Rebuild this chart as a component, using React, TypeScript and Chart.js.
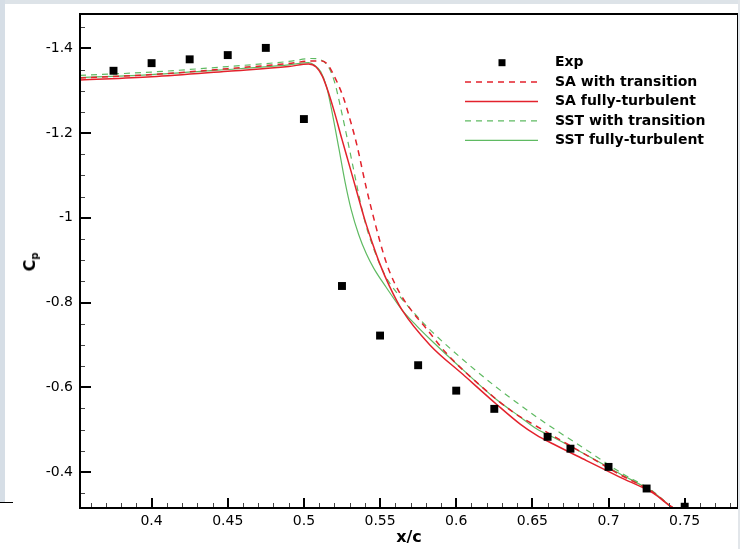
import React, { useEffect, useRef } from 'react';
import { Chart, registerables } from 'chart.js';

Chart.register(...registerables);

// ---------- data ----------
const expX = [0.375, 0.4, 0.425, 0.45, 0.475, 0.5, 0.525, 0.55, 0.575, 0.6, 0.625, 0.66, 0.675, 0.7, 0.725, 0.75];
const expCp = [-1.347, -1.365, -1.374, -1.384, -1.401, -1.233, -0.839, -0.722, -0.652, -0.592, -0.549, -0.483, -0.455, -0.412, -0.361, -0.318];

const saTransX = [0.353, 0.4, 0.45, 0.49, 0.505, 0.512, 0.516, 0.519, 0.5257, 0.531, 0.5345, 0.541, 0.5476, 0.552, 0.556, 0.563, 0.5717, 0.5805, 0.5936, 0.6155, 0.6374, 0.6527, 0.6637, 0.6855, 0.7074, 0.7293, 0.7412, 0.75];
const saTransCp = [-1.33, -1.338, -1.352, -1.364, -1.37, -1.37, -1.36, -1.341, -1.286, -1.223, -1.176, -1.07, -0.975, -0.918, -0.875, -0.822, -0.776, -0.738, -0.68, -0.605, -0.541, -0.508, -0.485, -0.44, -0.394, -0.352, -0.318, -0.3];

const saTurbX = [0.353, 0.4, 0.45, 0.49, 0.503, 0.508, 0.512, 0.516, 0.52, 0.525, 0.53, 0.535, 0.54, 0.545, 0.55, 0.556, 0.5645, 0.5827, 0.6045, 0.6264, 0.642, 0.6527, 0.6637, 0.6855, 0.7074, 0.7293, 0.7412, 0.75];
const saTurbCp = [-1.325, -1.333, -1.346, -1.357, -1.363, -1.356, -1.335, -1.297, -1.25, -1.185, -1.122, -1.058, -0.995, -0.94, -0.89, -0.84, -0.782, -0.7, -0.63, -0.56, -0.513, -0.487, -0.466, -0.427, -0.388, -0.35, -0.318, -0.3];

const sstTransX = [0.353, 0.4, 0.45, 0.49, 0.505, 0.51, 0.516, 0.52, 0.524, 0.528, 0.532, 0.536, 0.54, 0.545, 0.553, 0.563, 0.5717, 0.5827, 0.6045, 0.6264, 0.642, 0.6527, 0.6637, 0.6855, 0.7074, 0.7293, 0.7412, 0.75];
const sstTransCp = [-1.336, -1.344, -1.357, -1.369, -1.376, -1.374, -1.357, -1.322, -1.262, -1.195, -1.125, -1.055, -0.992, -0.935, -0.866, -0.814, -0.778, -0.736, -0.665, -0.6, -0.558, -0.53, -0.503, -0.452, -0.4, -0.354, -0.318, -0.3];

const sstTurbX = [0.353, 0.4, 0.45, 0.49, 0.503, 0.507, 0.511, 0.515, 0.519, 0.523, 0.527, 0.531, 0.536, 0.541, 0.546, 0.554, 0.5645, 0.574, 0.5827, 0.6045, 0.6264, 0.642, 0.6527, 0.6637, 0.6855, 0.7074, 0.7293, 0.7412, 0.75];
const sstTurbCp = [-1.331, -1.338, -1.35, -1.361, -1.366, -1.36, -1.345, -1.308, -1.24, -1.163, -1.085, -1.02, -0.96, -0.915, -0.88, -0.836, -0.782, -0.745, -0.714, -0.641, -0.571, -0.53, -0.502, -0.482, -0.44, -0.396, -0.352, -0.318, -0.3];

const xTicks = [0.4, 0.45, 0.5, 0.55, 0.6, 0.65, 0.7, 0.75];
const yTicks = [-1.4, -1.2, -1.0, -0.8, -0.6, -0.4];
const xRange = [0.353, 0.785];
const yRange = [-1.481, -0.315];

const seriesLabels = ['Exp', 'SA with transition', 'SA fully-turbulent', 'SST with transition', 'SST fully-turbulent'];

const RED = '#e3222c';
const GREEN = '#5fba62';
const FONT = '"DejaVu Sans", "Liberation Sans", Arial, sans-serif';

const pts = (xs: number[], ys: number[]) => xs.map((x, i) => ({ x, y: ys[i] }));

const framePlugin = {
  id: 'frameTicks',
  afterDatasetsDraw(chart: any) {
    const { ctx, chartArea: a, scales } = chart;
    const sx = scales.x;
    const sy = scales.y;
    ctx.save();
    // minor ticks
    ctx.strokeStyle = '#444';
    ctx.lineWidth = 1;
    ctx.beginPath();
    for (let k = Math.ceil(xRange[0] * 100); k <= Math.floor(xRange[1] * 100); k++) {
      const px = Math.round(sx.getPixelForValue(k / 100)) + 0.5;
      ctx.moveTo(px, a.bottom);
      ctx.lineTo(px, a.bottom - 5);
    }
    for (let k = Math.ceil(yRange[0] * 20); k <= Math.floor(yRange[1] * 20); k++) {
      const py = Math.round(sy.getPixelForValue(k / 20)) + 0.5;
      ctx.moveTo(a.left, py);
      ctx.lineTo(a.left + 5, py);
    }
    ctx.stroke();
    // major ticks
    ctx.strokeStyle = '#000';
    ctx.lineWidth = 2;
    ctx.beginPath();
    xTicks.forEach((v) => {
      const px = Math.round(sx.getPixelForValue(v));
      ctx.moveTo(px, a.bottom);
      ctx.lineTo(px, a.bottom - 10);
    });
    yTicks.forEach((v) => {
      const py = Math.round(sy.getPixelForValue(v));
      ctx.moveTo(a.left, py);
      ctx.lineTo(a.left + 11, py);
    });
    ctx.stroke();
    // frame
    ctx.lineWidth = 2;
    ctx.strokeRect(a.left, a.top, a.right - a.left, a.bottom - a.top);
    ctx.restore();
  },
};

const legendPlugin = {
  id: 'insideLegend',
  afterDraw(chart: any) {
    const { ctx, chartArea: a } = chart;
    const x0 = a.left + 385;
    const x1 = a.left + 458;
    const tx = a.left + 475;
    const y0 = a.top + 48.7;
    const dy = 19.4;
    ctx.save();
    ctx.font = `bold 14px ${FONT}`;
    ctx.textBaseline = 'middle';
    ctx.textAlign = 'left';
    chart.data.datasets.forEach((ds: any, i: number) => {
      const y = y0 + i * dy;
      if (ds.showLine === false) {
        ctx.fillStyle = '#000';
        ctx.fillRect(a.left + 422 - 3.5, y - 3.5, 7, 7);
      } else {
        ctx.strokeStyle = ds.borderColor;
        ctx.lineWidth = ds.borderWidth;
        ctx.setLineDash(ds.borderDash || []);
        ctx.beginPath();
        ctx.moveTo(x0, y);
        ctx.lineTo(x1, y);
        ctx.stroke();
        ctx.setLineDash([]);
      }
      ctx.fillStyle = '#000';
      ctx.fillText(ds.label, tx, y);
    });
    ctx.restore();
  },
};

export default function App() {
  const ref = useRef<HTMLCanvasElement | null>(null);

  useEffect(() => {
    document.body.style.margin = '0';
    const canvas = ref.current;
    if (!canvas) return;
    const lineDs = (label: string, xs: number[], ys: number[], color: string, width: number, dash: number[]) => ({
      label,
      data: pts(xs, ys),
      showLine: true,
      borderColor: color,
      backgroundColor: color,
      borderWidth: width,
      borderDash: dash,
      pointRadius: 0,
      pointHoverRadius: 0,
      cubicInterpolationMode: 'monotone' as const,
      order: 1,
    });
    const chart = new Chart(canvas, {
      type: 'scatter',
      data: {
        datasets: [
          {
            label: seriesLabels[0],
            data: pts(expX, expCp),
            showLine: false,
            pointStyle: 'rect',
            pointRadius: 5.6,
            pointBackgroundColor: '#000',
            pointBorderColor: '#000',
            pointBorderWidth: 0,
            order: 0,
          } as any,
          lineDs(seriesLabels[1], saTransX, saTransCp, RED, 1.5, [6, 5]),
          lineDs(seriesLabels[2], saTurbX, saTurbCp, RED, 1.5, []),
          lineDs(seriesLabels[3], sstTransX, sstTransCp, GREEN, 1.2, [6, 5]),
          lineDs(seriesLabels[4], sstTurbX, sstTurbCp, GREEN, 1.2, []),
        ],
      },
      options: {
        responsive: false,
        animation: false,
        devicePixelRatio: 1,
        layout: { autoPadding: false, padding: { left: 0, right: 0, top: 14, bottom: 0 } },
        plugins: {
          legend: { display: false },
          tooltip: { enabled: false },
        },
        scales: {
          x: {
            type: 'linear',
            min: xRange[0],
            max: xRange[1],
            afterBuildTicks: (s: any) => {
              s.ticks = xTicks.map((v) => ({ value: v }));
            },
            afterFit: (s: any) => {
              s.height = 41;
              s.paddingRight = 0;
              s.paddingLeft = 0;
            },
            grid: { display: false, drawTicks: false },
            border: { display: false },
            ticks: {
              padding: 5,
              color: '#000',
              font: { family: FONT, size: 14 },
              maxRotation: 0,
              autoSkip: false,
              callback: (v: any) => String(Number(Number(v).toFixed(3))),
            },
            title: {
              display: true,
              text: 'x/c',
              color: '#000',
              font: { family: FONT, size: 16, weight: 'bold' },
              padding: { top: 0, bottom: 2 },
            },
          },
          y: {
            type: 'linear',
            reverse: true,
            min: yRange[0],
            max: yRange[1],
            afterBuildTicks: (s: any) => {
              s.ticks = yTicks.map((v) => ({ value: v }));
            },
            afterFit: (s: any) => {
              s.width = 80;
              s.paddingTop = 0;
              s.paddingBottom = 0;
            },
            grid: { display: false, drawTicks: false },
            border: { display: false },
            ticks: {
              padding: 7,
              color: '#000',
              font: { family: FONT, size: 14 },
              autoSkip: false,
              callback: (v: any) => String(Number(Number(v).toFixed(3))),
            },
          },
        },
      },
      plugins: [framePlugin, legendPlugin],
    } as any);
    return () => chart.destroy();
  }, []);

  return (
    <div style={{ position: 'absolute', left: 0, top: 0, width: 740, height: 549, background: '#fff', overflow: 'hidden' }}>
      <div style={{ position: 'absolute', left: 0, top: 0, width: 740, height: 4, background: '#dde3e8' }} />
      <div style={{ position: 'absolute', left: 0, top: 0, width: 5, height: 502, background: '#d6dee6' }} />
      <div style={{ position: 'absolute', left: 0, top: 502, width: 13, height: 1, background: '#000' }} />
      <canvas ref={ref} width={738} height={549} style={{ position: 'absolute', left: 0, top: 0, width: 738, height: 549 }} />
      <div style={{ position: 'absolute', left: 738, top: 0, width: 2, height: 549, background: '#e2e6ea' }} />
      <div
        style={{
          position: 'absolute',
          left: 31,
          top: 262,
          transform: 'translate(-50%, -50%) rotate(-90deg)',
          fontFamily: FONT,
          fontWeight: 'bold',
          fontSize: 16,
          lineHeight: 1,
          whiteSpace: 'nowrap',
          color: '#000',
        }}
      >
        C<sub style={{ fontSize: 10, verticalAlign: '-3px' }}>p</sub>
      </div>
    </div>
  );
}
